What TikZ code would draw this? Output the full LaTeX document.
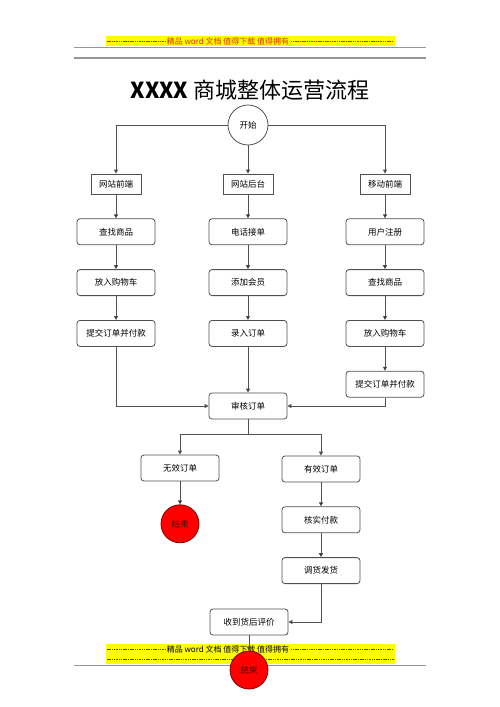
\documentclass[tikz,border=0pt]{standalone}
\usepackage{fontspec}
\setmainfont{Noto Sans CJK SC}
\usetikzlibrary{arrows.meta,positioning}
\definecolor{linegray}{RGB}{80,80,80}
\definecolor{rulegray}{RGB}{150,150,150}
\definecolor{bandyellow}{RGB}{255,255,0}
\definecolor{bandred}{RGB}{225,45,0}
\definecolor{endred}{RGB}{255,0,0}

\begin{document}
\begin{tikzpicture}[x=1pt, y=-1pt,
  node distance=24pt and 40pt,
  font=\fontsize{8.5}{10}\selectfont, >={Triangle[length=4pt,width=4pt]},
  line width=0.8pt,
  box/.style={draw=linegray, rounded corners=3pt, minimum width=78pt,
              minimum height=26pt, inner sep=2pt},
  head/.style={draw=linegray, minimum width=50pt, minimum height=20pt, inner sep=2pt},
  startpt/.style={circle, draw=linegray, fill=white, minimum size=40pt, inner sep=0pt},
  endpt/.style={circle, draw=red!50!black, fill=endred, text=red!30!black,
                minimum size=38pt, inner sep=0pt},
  bandtext/.style={inner sep=1pt, font=\fontsize{8}{9}\selectfont},
  bandline/.style={line width=0.35pt, dash pattern=on 1.5pt off 0.8pt},
  link/.style={draw=linegray, ->}]
\useasboundingbox (0,0) rectangle (500,707);

% header band
\fill[bandyellow] (106,36) rectangle (395,46);
\node[bandtext, text=bandred, fill=bandyellow] (tophead) at (228,41)
  {精品\ word\ 文档\ 值得下载\ 值得拥有};
\coordinate (topl) at (107,41);
\coordinate (topr) at (394,41);
\draw[bandred, bandline] (topl) -- (tophead.west) (tophead.east) -- (topr);
\coordinate (rulea) at (74,47);
\coordinate (ruleb) at (426,47);
\coordinate (rulec) at (74,58);
\coordinate (ruled) at (426,58);
\draw[rulegray] (rulea) -- (ruleb);
\draw[rulegray, line width=2pt] (rulec) -- (ruled);

% footer band
\fill[bandyellow] (106,644) rectangle (395,664);
\node[bandtext, fill=bandyellow] (foothead) at (228,649)
  {精品\ word\ 文档\ 值得下载\ 值得拥有};
\coordinate (footl) at (107,649);
\coordinate (footr) at (394,649);
\coordinate (footll) at (107,659);
\coordinate (footrr) at (394,659);
\draw[black!70, bandline] (footl) -- (foothead.west) (foothead.east) -- (footr)
  (footll) -- (footrr);
\coordinate (rulee) at (74,665);
\coordinate (rulef) at (426,665);
\draw[rulegray] (rulee) -- (rulef);

\node[font=\fontsize{22}{24}\selectfont] (title) at (250,90) {\textbf{XXXX} 商城整体运营流程};

\node[startpt] (start) at (248,125) {开始};
\node[head] (webf) at (116,184) {网站前端};
\node[head] (webb) at (248,184) {网站后台};
\node[head] (mobf) at (385,184) {移动前端};

\node[box, below=of webf] (findl)  {查找商品};
\node[box, below=of findl] (cartl) {放入购物车};
\node[box, below=of cartl] (payl)  {提交订单并付款};

\node[box, below=of webb] (phone)  {电话接单};
\node[box, below=of phone] (member) {添加会员};
\node[box, below=of member] (entry) {录入订单};

\node[box, below=of mobf] (signup) {用户注册};
\node[box, below=of signup] (findr) {查找商品};
\node[box, below=of findr] (cartr)  {放入购物车};
\node[box, below=of cartr] (payr)   {提交订单并付款};

\node[box] (audit) at (248,406) {审核订单};
\node[box] (invalid) at (180,468) {无效订单};
\node[box] (valid) at (321,469) {有效订单};
\node[endpt, below=23pt of invalid] (endl) {结束};
\node[box, below=of valid] (check) {核实付款};
\node[box, below=of check] (ship)  {调货发货};
\node[box] (review) at (249,622) {收到货后评价};

\draw[link] (start.west) -| (webf);
\draw[link] (start.east) -| (mobf);
\path[link]
  (start)  edge (webb)
  (webf)   edge (findl)
  (findl)  edge (cartl)
  (cartl)  edge (payl)
  (webb)   edge (phone)
  (phone)  edge (member)
  (member) edge (entry)
  (entry)  edge (audit)
  (mobf)   edge (signup)
  (signup) edge (findr)
  (findr)  edge (cartr)
  (cartr)  edge (payr)
  (invalid) edge (endl)
  (valid)  edge (check)
  (check)  edge (ship);
\draw[link] (payl) |- (audit);
\draw[link] (payr) |- (audit);
\draw[link] (audit.south) -- ++(0,15) -| (invalid);
\draw[link] (audit.south) -- ++(0,15) -| (valid);
\draw[link] (ship) |- (review);

\node[endpt] (endb) at (249,670) {结束};
\draw[link] (review) -- (endb);
\end{tikzpicture}
\end{document}
